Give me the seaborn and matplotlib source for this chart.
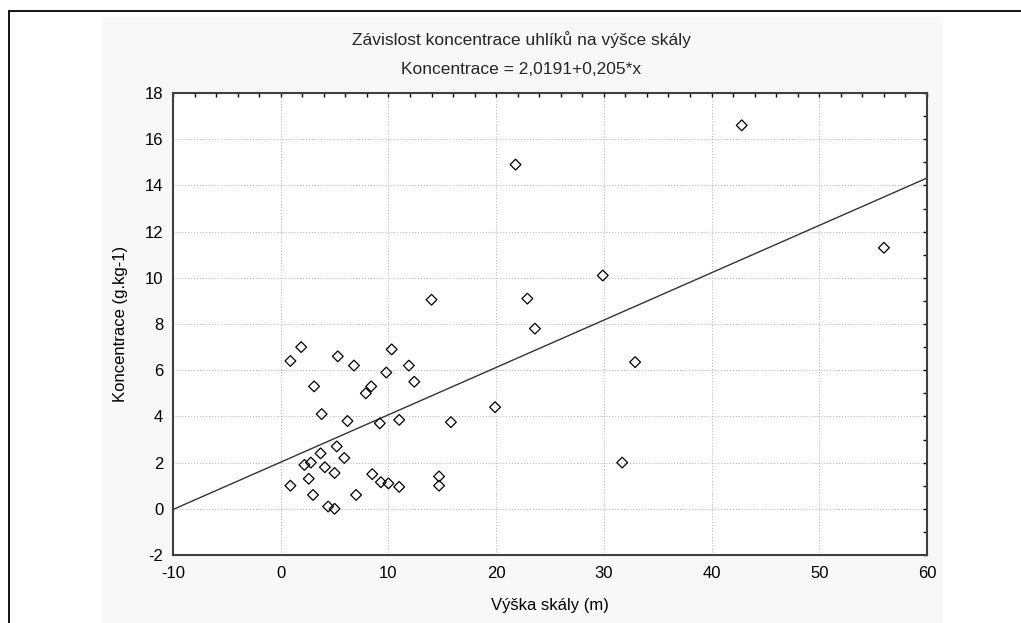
import numpy as np
import pandas as pd
import matplotlib
matplotlib.use("Agg")
import matplotlib.pyplot as plt
from matplotlib.ticker import MultipleLocator
import seaborn as sns

# hodnoty
vyska = [0.9, 1.9, 3.1, 3.8, 5.3, 6.8, 6.2, 7.9, 8.4, 9.8, 10.3, 11.9, 12.4,
         9.2, 11.0, 5.2, 3.7, 5.9, 2.2, 2.8, 4.1, 5.0, 2.6, 0.9, 3.0, 4.4,
         5.0, 7.0, 8.5, 9.3, 10.0, 11.0,
         42.8, 21.8, 56.0, 29.9, 14.0, 22.9, 23.6, 32.9, 19.9, 15.8, 31.7,
         14.7, 14.7]
koncentrace = [6.4, 7.0, 5.3, 4.1, 6.6, 6.2, 3.8, 5.0, 5.3, 5.9, 6.9, 6.2, 5.5,
               3.7, 3.85, 2.7, 2.4, 2.2, 1.9, 2.0, 1.8, 1.55, 1.3, 1.0, 0.6, 0.1,
               0.0, 0.6, 1.5, 1.15, 1.1, 0.95,
               16.6, 14.9, 11.3, 10.1, 9.05, 9.1, 7.8, 6.35, 4.4, 3.75, 2.0,
               1.4, 1.0]

intercept = 2.0191
slope = 0.205
x_range = [-10, 60]

df = pd.DataFrame({'vyska': vyska, 'koncentrace': koncentrace})
df_line = pd.DataFrame({'x': x_range})
df_line['y'] = intercept + slope * df_line['x']

sns.set_theme(style="white")
plt.rcParams['font.family'] = ['Liberation Sans', 'DejaVu Sans']
plt.rcParams['axes.unicode_minus'] = False

fs = 12

fig = plt.figure(figsize=(10.21, 6.23), dpi=100)
fig.patch.set_facecolor('white')

# sedy panel a ramecek okolo
fig.patches.append(plt.Rectangle((102 / 1021, 0), 841 / 1021, 606 / 623,
                                 transform=fig.transFigure, facecolor='#f8f8f8',
                                 edgecolor='none', zorder=-5))
fig.lines.append(plt.Line2D([8.5 / 1021, 8.5 / 1021], [0, 1 - 10.5 / 623],
                            transform=fig.transFigure, color='black', lw=1.3, zorder=-4))
fig.lines.append(plt.Line2D([8.5 / 1021, 1], [1 - 10.5 / 623, 1 - 10.5 / 623],
                            transform=fig.transFigure, color='black', lw=1.3, zorder=-4))

ax = fig.add_axes([173 / 1021, 1 - 555 / 623, 754 / 1021, 462 / 623])
ax.set_zorder(1)
ax.set_facecolor('white')

sns.lineplot(data=df_line, x='x', y='y', ax=ax, color='#333333', lw=1.0, zorder=2)
sns.scatterplot(data=df, x='vyska', y='koncentrace', ax=ax, marker='D', s=30,
                facecolor='none', edgecolor='black', linewidth=0.9, zorder=3)

ax.set_xlim(-10, 60)
ax.set_ylim(-2, 18)
ax.xaxis.set_major_locator(MultipleLocator(10))
ax.xaxis.set_minor_locator(MultipleLocator(2))
ax.yaxis.set_major_locator(MultipleLocator(2))
ax.yaxis.set_minor_locator(MultipleLocator(1))
ax.grid(True, which='major', linestyle=':', color='#bdbdbd', linewidth=0.8)
ax.set_axisbelow(True)

ax.tick_params(which='both', direction='in', top=True, right=True,
               length=3, width=1, color='black', labelsize=fs, labelcolor='black')
ax.tick_params(axis='x', pad=8)
ax.tick_params(axis='y', pad=7)
for sp in ax.spines.values():
    sp.set_color('#404040')
    sp.set_linewidth(1.5)

ax.set_xlabel('Výška skály (m)', fontsize=fs, color='black', labelpad=12)
ax.set_ylabel('Koncentrace (g.kg-1)', fontsize=fs, color='black', labelpad=12)

fig.text(521 / 1021, 1 - 40 / 623, 'Závislost koncentrace uhlíků na výšce skály',
         ha='center', va='center', fontsize=12.5)
fig.text(521 / 1021, 1 - 69 / 623, 'Koncentrace = 2,0191+0,205*x',
         ha='center', va='center', fontsize=12.5)

plt.savefig('out.png', dpi=100)
